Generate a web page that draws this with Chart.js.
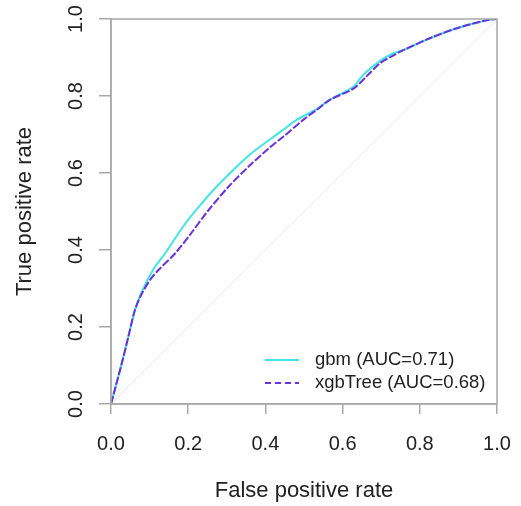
<!DOCTYPE html>
<html lang="en">
<head>
<meta charset="UTF-8">
<title>ROC curves</title>
<script src="https://cdn.jsdelivr.net/npm/chart.js"></script>
<style>
  html, body { margin: 0; padding: 0; background: #fff; }
</style>
</head>
<body>
<canvas id="roc" width="521" height="506"></canvas>

<script>
  // values
  const gbmFpr = [0, 0.028, 0.045, 0.062, 0.079, 0.11, 0.14, 0.187, 0.23, 0.274, 0.36, 0.446, 0.481, 0.533, 0.567, 0.628, 0.645, 0.662, 0.70, 0.731, 0.757, 0.826, 0.896, 0.973, 1];
  const gbmTpr = [0, 0.106, 0.175, 0.244, 0.29, 0.35, 0.391, 0.461, 0.515, 0.565, 0.648, 0.712, 0.738, 0.766, 0.79, 0.824, 0.845, 0.863, 0.893, 0.911, 0.919, 0.95, 0.976, 0.997, 1];

  const xgbFpr = [0, 0.028, 0.045, 0.062, 0.079, 0.101, 0.123, 0.166, 0.205, 0.25, 0.305, 0.36, 0.41, 0.446, 0.498, 0.533, 0.567, 0.628, 0.662, 0.697, 0.731, 0.757, 0.826, 0.896, 0.973, 1];
  const xgbTpr = [0, 0.106, 0.175, 0.244, 0.285, 0.322, 0.348, 0.391, 0.44, 0.50, 0.565, 0.62, 0.665, 0.694, 0.738, 0.764, 0.79, 0.819, 0.851, 0.885, 0.905, 0.919, 0.95, 0.976, 0.997, 1];

  const chanceLine = [0, 1];
  const axisTicks = [0, 0.2, 0.4, 0.6, 0.8, 1.0];
  const legendLabels = ['gbm (AUC=0.71)', 'xgbTree (AUC=0.68)'];
  const legendDash = [[], [6, 4]];

  const toPoints = (xs, ys) => xs.map((x, i) => ({ x: x, y: ys[i] }));

  const GRAY = '#a8a8a8';
  const TEXT = '#222';
  const FONT = 'Liberation Sans, Arial, sans-serif';

  // R-style frame, rotated y labels and the legend box
  const rStyle = {
    id: 'rStyle',
    afterDraw(chart) {
      const ctx = chart.ctx;
      const a = chart.chartArea;
      const ys = chart.scales.y;
      ctx.save();
      ctx.strokeStyle = GRAY;
      ctx.lineWidth = 1.5;
      ctx.strokeRect(a.left, a.top, a.right - a.left, a.bottom - a.top);

      ctx.fillStyle = TEXT;
      ctx.font = '20px ' + FONT;
      ctx.textAlign = 'center';
      ctx.textBaseline = 'middle';
      axisTicks.forEach(v => {
        ctx.save();
        ctx.translate(a.left - 35, ys.getPixelForValue(v));
        ctx.rotate(-Math.PI / 2);
        ctx.fillText(v.toFixed(1), 0, 0);
        ctx.restore();
      });

      // legend
      const lx = a.left + 154, ly = a.bottom - 44;
      const ds = chart.data.datasets;
      ctx.font = '18.5px ' + FONT;
      ctx.textAlign = 'left';
      legendLabels.forEach((lab, i) => {
        const y = ly + i * 23;
        ctx.strokeStyle = ds[i].borderColor;
        ctx.lineWidth = 2;
        ctx.setLineDash(legendDash[i]);
        ctx.beginPath();
        ctx.moveTo(lx, y);
        ctx.lineTo(lx + 34, y);
        ctx.stroke();
        ctx.setLineDash([]);
        ctx.fillText(lab, lx + 50, y);
      });
      ctx.restore();
    }
  };

  new Chart(document.getElementById('roc'), {
    type: 'scatter',
    data: {
      datasets: [
        {
          label: legendLabels[0],
          data: toPoints(gbmFpr, gbmTpr),
          showLine: true,
          borderColor: '#3ee6e6',
          borderWidth: 2,
          pointRadius: 0,
          tension: 0.3,
          order: 2
        },
        {
          label: legendLabels[1],
          data: toPoints(xgbFpr, xgbTpr),
          showLine: true,
          borderColor: '#6a2fe0',
          borderWidth: 2,
          borderDash: [8, 2],
          pointRadius: 0,
          tension: 0.3,
          order: 1
        },
        {
          label: 'chance',
          data: toPoints(chanceLine, chanceLine),
          showLine: true,
          borderColor: '#e8e8e8',
          borderWidth: 1,
          pointRadius: 0,
          order: 3
        }
      ]
    },
    options: {
      responsive: false,
      animation: false,
      layout: { padding: { top: 19, right: 24, left: 0, bottom: 0 } },
      plugins: { legend: { display: false }, tooltip: { enabled: false } },
      scales: {
        x: {
          type: 'linear',
          min: 0, max: 1,
          afterBuildTicks: s => { s.ticks = axisTicks.map(v => ({ value: v })); },
          afterFit: s => { s.height = 102; s.paddingLeft = 0; s.paddingRight = 0; },
          border: { color: GRAY, width: 1.5 },
          grid: { drawOnChartArea: false, tickLength: 10, color: GRAY, lineWidth: 1.5 },
          ticks: {
            color: TEXT, font: { family: FONT, size: 20 }, padding: 18,
            maxRotation: 0, callback: v => v.toFixed(1)
          },
          title: {
            display: true, text: 'False positive rate', color: TEXT,
            font: { family: FONT, size: 22 }, padding: { top: 0, bottom: 2 }
          }
        },
        y: {
          type: 'linear',
          min: 0, max: 1,
          afterBuildTicks: s => { s.ticks = axisTicks.map(v => ({ value: v })); },
          afterFit: s => { s.width = 111; s.paddingTop = 0; s.paddingBottom = 0; },
          border: { color: GRAY, width: 1.5 },
          grid: { drawOnChartArea: false, tickLength: 12, color: GRAY, lineWidth: 1.5 },
          ticks: { display: false },
          title: {
            display: true, text: 'True positive rate', color: TEXT,
            font: { family: FONT, size: 22 }, padding: { top: 12, bottom: 0 }
          }
        }
      }
    },
    plugins: [rStyle]
  });
</script>
</body>
</html>
